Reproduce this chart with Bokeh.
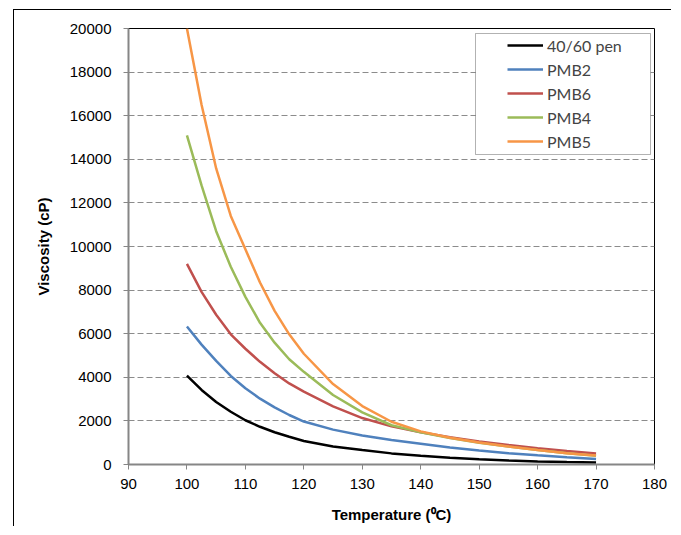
from bokeh.plotting import figure
from bokeh.models import Range1d, SingleIntervalTicker, Legend, LegendItem, BoxAnnotation
from bokeh.embed import file_html
from bokeh.resources import INLINE

# Temperature (deg C)
temps = [100, 102.5, 105, 107.5, 110, 112.5, 115, 117.5, 120, 125, 130, 135, 140, 145, 150, 155, 160, 165, 170]
# Viscosity (cP)
pen_4060 = [4080, 3420, 2870, 2420, 2030, 1730, 1480, 1270, 1080, 830, 660, 510, 400, 310, 240, 185, 140, 110, 95]
pmb2 = [6330, 5500, 4750, 4060, 3500, 3020, 2620, 2270, 1970, 1600, 1330, 1120, 950, 780, 640, 520, 420, 330, 250]
pmb6 = [9200, 7920, 6870, 5970, 5310, 4710, 4190, 3720, 3340, 2670, 2130, 1750, 1480, 1250, 1060, 900, 750, 620, 510]
pmb4 = [15100, 12800, 10700, 9070, 7690, 6500, 5590, 4830, 4250, 3190, 2390, 1800, 1480, 1220, 1000, 820, 660, 520, 400]
pmb5 = [20000, 16500, 13580, 11400, 9870, 8350, 7050, 5970, 5080, 3690, 2680, 1960, 1520, 1230, 1010, 830, 660, 520, 410]

series_names = ["40/60 pen", "PMB2", "PMB6", "PMB4", "PMB5"]
series_values = [pen_4060, pmb2, pmb6, pmb4, pmb5]
series_colors = ["#000000", "#4F81BD", "#C0504D", "#9BBB59", "#F79646"]

p = figure(width=658, height=517, output_backend="svg", toolbar_location=None,
           x_range=Range1d(90, 180), y_range=Range1d(0, 20000),
           min_border_left=114, min_border_right=18, min_border_top=18, min_border_bottom=63,
           margin=(9, 0, 0, 13),
           styles={"border-left": "1px solid black", "border-top": "1px solid black"})

p.background_fill_color = "white"
p.border_fill_color = "white"
p.outline_line_color = "black"
p.outline_line_width = 1

p.xaxis.ticker = SingleIntervalTicker(interval=10)
p.yaxis.ticker = SingleIntervalTicker(interval=2000)
p.xgrid.grid_line_color = None
p.ygrid.grid_line_color = "#8C8C8C"
p.ygrid.grid_line_dash = "6 3"
p.ygrid.grid_line_width = 1

for ax in (p.xaxis[0], p.yaxis[0]):
    ax.axis_line_color = "#868686"
    ax.axis_line_width = 2
    ax.major_tick_line_color = "#868686"
    ax.major_tick_line_width = 1
    ax.major_tick_out = 5
    ax.major_tick_in = 0
    ax.minor_tick_line_color = None
    ax.major_label_text_font = "Liberation Sans"
    ax.major_label_text_font_size = "15px"
    ax.major_label_text_color = "black"
    ax.axis_label_text_font = "Liberation Sans"
    ax.axis_label_text_font_style = "bold"
    ax.axis_label_text_font_size = "15px"
    ax.axis_label_text_color = "black"

p.xaxis.axis_label = "Temperature (\u2070C)"
p.yaxis.axis_label = "Viscosity (cP)"
p.yaxis.major_label_standoff = 12
p.xaxis.major_label_standoff = 9
p.yaxis.axis_label_standoff = 15
p.xaxis.axis_label_standoff = 14

items = []
for name, vals, col in zip(series_names, series_values, series_colors):
    r = p.line(temps, vals, line_color=col, line_width=2.5)
    items.append(LegendItem(label=name, renderers=[r]))

# legend frame (canvas pixels, relative to the figure's own canvas)
box = BoxAnnotation(left=460, right=635, top=22, bottom=143,
                    left_units="canvas", right_units="canvas",
                    top_units="canvas", bottom_units="canvas",
                    fill_color="white", fill_alpha=1.0,
                    line_color="black", line_width=1)
p.add_layout(box)

legend = Legend(items=items, location="top_right", margin=4, padding=3, spacing=4,
                glyph_width=36, glyph_height=20, label_height=20, label_width=100,
                label_standoff=4, label_text_font="Lato", label_text_font_size="16px",
                border_line_alpha=0, background_fill_alpha=0)
p.add_layout(legend)

open("out.html", "w").write(file_html(p, INLINE))
